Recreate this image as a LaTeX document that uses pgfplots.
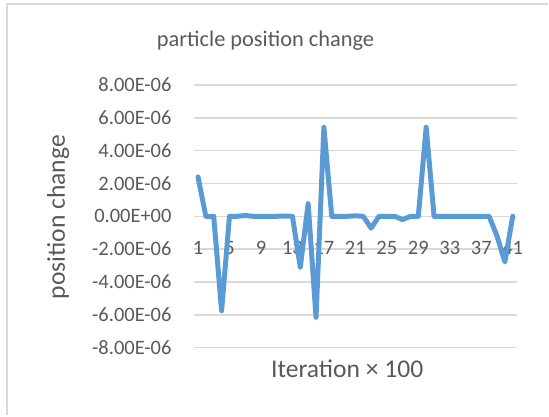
\documentclass[border=0pt]{standalone}
\usepackage{pgfplots}
\pgfplotsset{compat=1.18}
\usepackage{fontspec}
\setmainfont{Carlito}
\definecolor{txt}{RGB}{89,89,89}
\definecolor{gridc}{RGB}{217,217,217}
\definecolor{lineblue}{RGB}{91,155,213}
\begin{document}
\begin{tikzpicture}[x=1bp,y=1bp]
\path (0,0) rectangle (549,416);
\draw[gridc, line width=2bp] (6.8,0) -- (6.8,411.8) -- (549,411.8);
\begin{axis}[
  set layers,
  at={(194.4bp,67.7bp)}, anchor=south west,
  width=323.2bp, height=263.2bp, scale only axis,
  xmin=0.5, xmax=41.5,
  ymin=-8e-6, ymax=8e-6,
  scaled y ticks=false,
  xtick={1,5,9,13,17,21,25,29,33,37,41},
  xticklabels={1,5,9,13,17,21,25,29,33,37,41},
  ytick={-8e-6,-6e-6,-4e-6,-2e-6,0,2e-6,4e-6,6e-6,8e-6},
  yticklabels={-8.00E-06,-6.00E-06,-4.00E-06,-2.00E-06,0.00E+00,2.00E-06,4.00E-06,6.00E-06,8.00E-06},
  axis line style={draw=none},
  major tick length=0pt,
  ymajorgrids,
  grid style={gridc, line width=1.5bp},
  /pgf/number format/assume math mode=true,
  tick label style={font=\fontsize{20.5bp}{24bp}\selectfont, text=txt},
  yticklabel style={anchor=east, inner sep=0pt, xshift=-22.4bp},
  xticklabel style={anchor=north, inner sep=0pt, yshift=106.6bp},
  clip=false,
]
\addplot[lineblue, line width=5bp, line join=round, line cap=round] coordinates {
(1,2.4e-6) (2,0) (3,0) (4,-5.75e-6) (5,0) (6,0) (7,0.05e-6) (8,0) (9,0) (10,0)
(11,0) (12,0.02e-6) (13,0) (14,-3.1e-6) (15,0.77e-6) (16,-6.15e-6) (17,5.42e-6) (18,0) (19,0) (20,0)
(21,0.03e-6) (22,0) (23,-0.72e-6) (24,0) (25,0) (26,0) (27,-0.2e-6) (28,0) (29,0) (30,5.42e-6)
(31,0) (32,0) (33,0) (34,0) (35,0) (36,0) (37,0) (38,0) (39,-1.2e-6) (40,-2.78e-6)
(41,0)
};
\end{axis}
\node[anchor=base, text=txt, font=\fontsize{22.4bp}{26bp}\selectfont, inner sep=0pt] at (266,369.5) {particle position change};
\node[anchor=base, rotate=90, text=txt, font=\fontsize{25.6bp}{30bp}\selectfont, inner sep=0pt] at (65,198.5) {position change};
\node[anchor=base, text=txt, font=\fontsize{25.6bp}{30bp}\selectfont, inner sep=0pt] at (347.8,37.7) {Iteration × 100};
\end{tikzpicture}
\end{document}
